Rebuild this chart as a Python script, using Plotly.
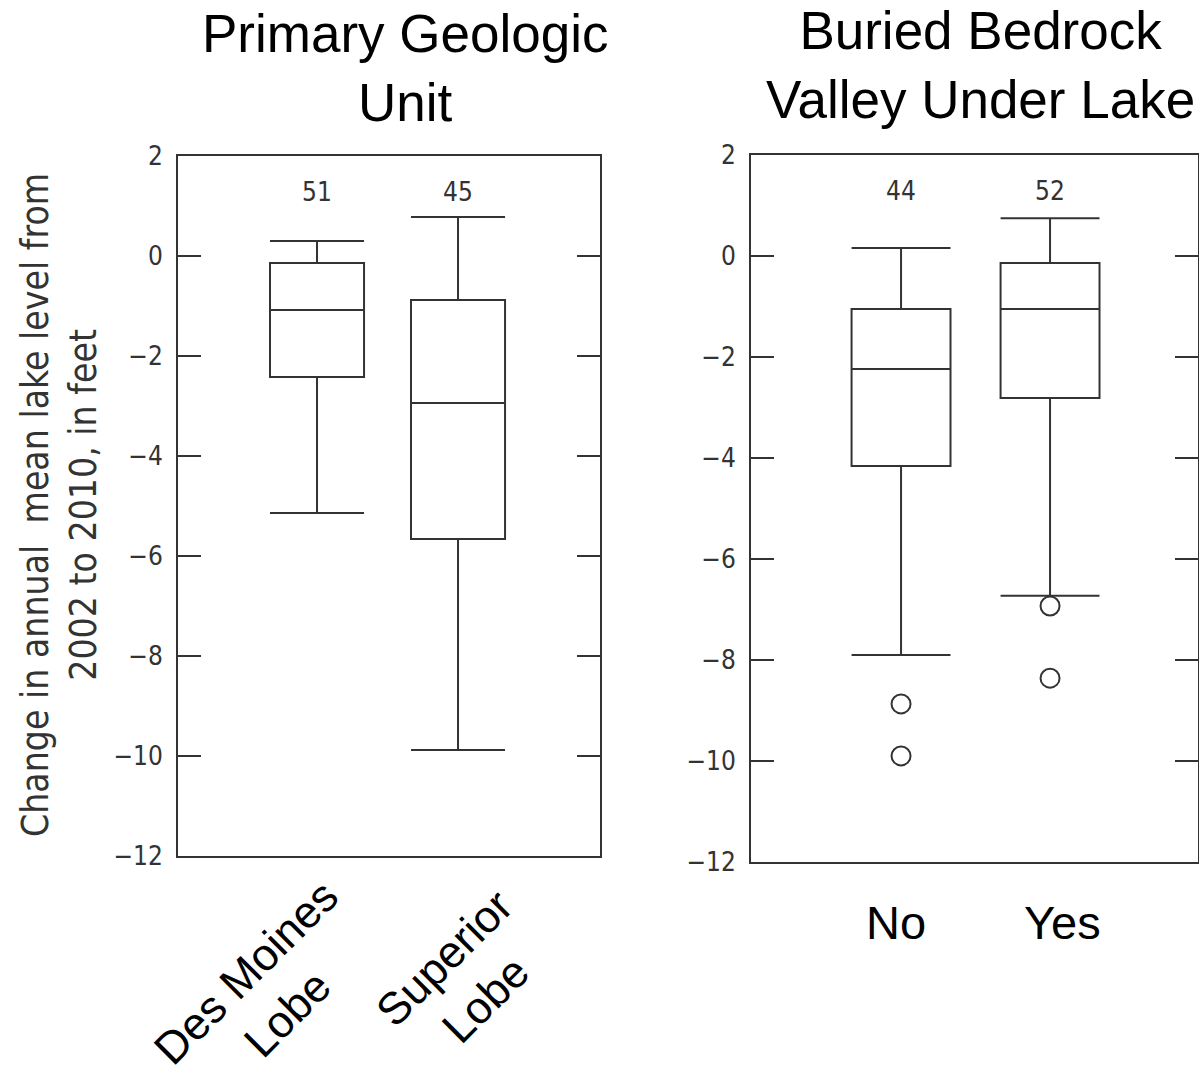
import plotly.graph_objects as go

# Change in annual mean lake level, 2002 to 2010 (feet): box statistics
geo_categories = ["Des Moines Lobe", "Superior Lobe"]
geo_labels = ["Des Moines<br>Lobe", "Superior<br>Lobe"]
geo_n = [51, 45]
geo_lower = [-5.14, -9.88]
geo_q1 = [-2.42, -5.66]
geo_median = [-1.08, -2.94]
geo_q3 = [-0.14, -0.88]
geo_upper = [0.30, 0.78]

valley_categories = ["No", "Yes"]
valley_n = [44, 52]
valley_lower = [-7.90, -6.73]
valley_q1 = [-4.16, -2.81]
valley_median = [-2.24, -1.05]
valley_q3 = [-1.05, -0.14]
valley_upper = [0.16, 0.75]

outlier_categories = ["No", "No", "Yes", "Yes"]
outlier_values = [-8.87, -9.90, -6.93, -8.36]

y_ticks = [2, 0, -2, -4, -6, -8, -10, -12]

W, H = 1199, 1071
INK = "#333333"
NARROW = "Liberation Sans Narrow, Arial Narrow, DejaVu Sans Condensed, sans-serif"
SANS = "Liberation Sans, Arial, Helvetica, sans-serif"


def px_x(p):
    return p / W


def px_y(p):
    return 1 - p / H


fig = go.Figure()

box_style = dict(
    fillcolor="white",
    line=dict(color=INK, width=2),
    whiskerwidth=1,
    boxpoints=False,
    showlegend=False,
    hoverinfo="skip",
)

fig.add_trace(go.Box(
    x=geo_categories, q1=geo_q1, median=geo_median, q3=geo_q3,
    lowerfence=geo_lower, upperfence=geo_upper, width=0.667,
    xaxis="x", yaxis="y", **box_style,
))
fig.add_trace(go.Box(
    x=valley_categories, q1=valley_q1, median=valley_median, q3=valley_q3,
    lowerfence=valley_lower, upperfence=valley_upper, width=0.664,
    xaxis="x2", yaxis="y2", **box_style,
))
fig.add_trace(go.Scatter(
    x=outlier_categories, y=outlier_values, mode="markers",
    marker=dict(symbol="circle-open", size=19, color=INK, line=dict(width=2, color=INK)),
    xaxis="x2", yaxis="y2", showlegend=False, hoverinfo="skip",
))

yaxis_style = dict(
    range=[-12, 2], tickvals=y_ticks, ticks="inside", ticklen=23, tickwidth=2,
    tickcolor=INK, showline=True, linewidth=2, linecolor=INK, mirror="ticks",
    showgrid=False, zeroline=False, ticklabelstandoff=8, automargin=False,
    tickfont=dict(family=NARROW, size=26, color=INK),
)
xaxis_style = dict(
    type="category", showline=True, linewidth=2, linecolor=INK, mirror=True,
    ticks="", showticklabels=False, showgrid=False, zeroline=False,
    automargin=False,
)

fig.update_layout(
    template="none",
    width=W, height=H,
    margin=dict(l=0, r=0, t=0, b=0, pad=0, autoexpand=False),
    paper_bgcolor="white", plot_bgcolor="white",
    xaxis=dict(domain=[px_x(178), px_x(600)], range=[-0.986, 2.007],
               anchor="y", **xaxis_style),
    yaxis=dict(domain=[px_y(856), px_y(156)], anchor="x", **yaxis_style),
    xaxis2=dict(domain=[px_x(751), px_x(1198)], range=[-1.007, 1.993],
                anchor="y2", **xaxis_style),
    yaxis2=dict(domain=[px_y(862), px_y(155)], anchor="x2", **yaxis_style),
)

annotations = []
centered = dict(showarrow=False, xanchor="center", yanchor="middle")

# sample counts above each box
for cat, n in zip(geo_categories, geo_n):
    annotations.append(dict(x=cat, y=1.28, xref="x", yref="y", text=str(n),
                            font=dict(family=NARROW, size=26, color=INK), **centered))
for cat, n in zip(valley_categories, valley_n):
    annotations.append(dict(x=cat, y=1.29, xref="x2", yref="y2", text=str(n),
                            font=dict(family=NARROW, size=26, color=INK), **centered))

# panel titles
annotations.append(dict(x=px_x(405), y=px_y(68), xref="paper", yref="paper",
                        text="Primary Geologic<br>Unit",
                        font=dict(family=SANS, size=53, color="black"), **centered))
annotations.append(dict(x=px_x(980), y=px_y(65), xref="paper", yref="paper",
                        text="Buried Bedrock<br>Valley Under Lake",
                        font=dict(family=SANS, size=53, color="black"), **centered))

# rotated category labels for the left panel
label_centers = [(267, 993), (465, 979)]
for lab, (cx, cy) in zip(geo_labels, label_centers):
    annotations.append(dict(x=px_x(cx), y=px_y(cy), xref="paper", yref="paper",
                            text=lab, textangle=-45,
                            font=dict(family=SANS, size=45, color="black"), **centered))

# category labels for the right panel
for cat, shift in zip(valley_categories, [-5, 12]):
    annotations.append(dict(x=cat, y=px_y(922), xref="x2", yref="paper",
                            xshift=shift, text=cat,
                            font=dict(family=SANS, size=47, color="black"), **centered))

# shared y-axis title
annotations.append(dict(x=px_x(59), y=px_y(505), xref="paper", yref="paper",
                        text="Change in annual\u00a0\u00a0mean lake level from<br>2002 to 2010, in feet",
                        textangle=-90,
                        font=dict(family=NARROW, size=37, color=INK), **centered))

fig.update_layout(annotations=annotations)

fig.write_html("out.html")
